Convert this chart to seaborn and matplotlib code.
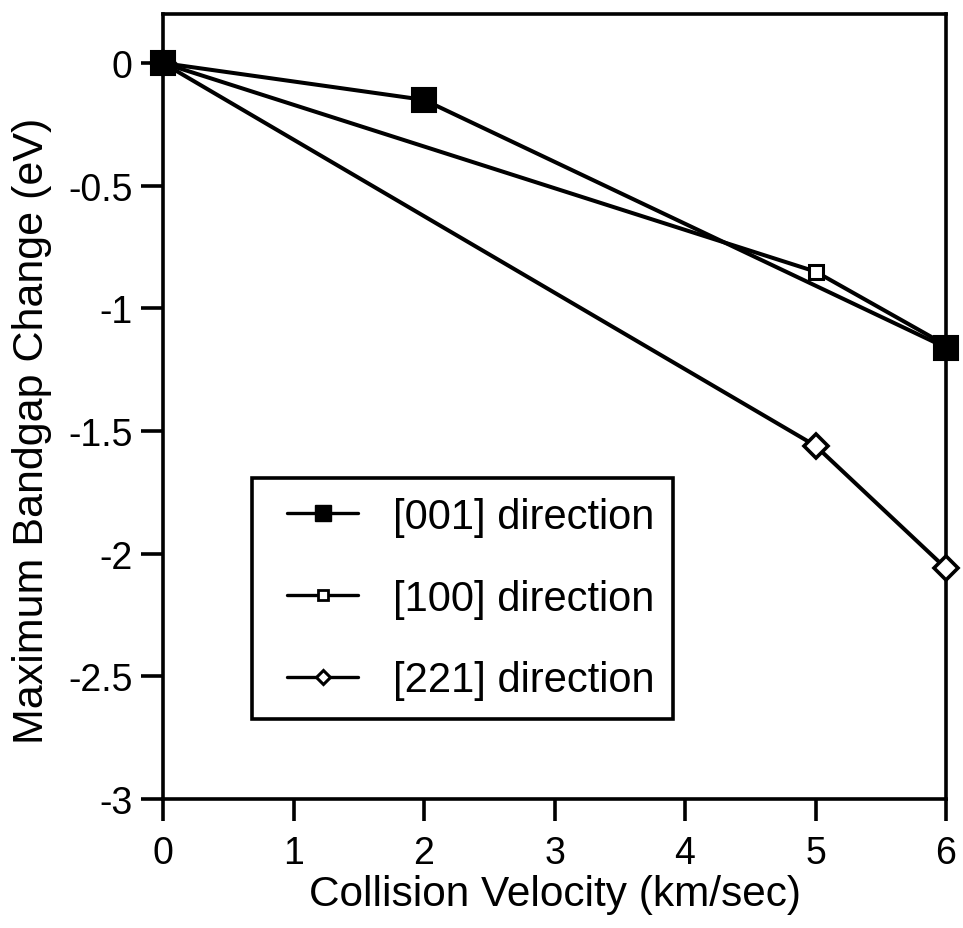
import matplotlib
matplotlib.use("Agg")
import matplotlib.pyplot as plt
from matplotlib.lines import Line2D
from matplotlib.legend_handler import HandlerLine2D
import seaborn as sns
import pandas as pd

# ---- data ----
velocity_001 = [0, 2, 6]
gap_001 = [0.0, -0.15, -1.16]
velocity_100 = [0, 5, 6]
gap_100 = [0.0, -0.85, -1.15]
velocity_221 = [0, 5, 6]
gap_221 = [0.0, -1.56, -2.06]
labels = ["[001] direction", "[100] direction", "[221] direction"]
x_ticks = [0, 1, 2, 3, 4, 5, 6]
y_ticks = [0, -0.5, -1, -1.5, -2, -2.5, -3]
y_tick_labels = ["0", "-0.5", "-1", "-1.5", "-2", "-2.5", "-3"]

sns.set_theme(style="ticks")
plt.rcParams["font.family"] = ["Liberation Sans", "DejaVu Sans"]

fig = plt.figure(figsize=(9.63, 9.29), dpi=100)
ax = fig.add_axes([163 / 963, 1 - 800 / 929, (946 - 163) / 963, (800 - 15) / 929])

lw = 2.9
styles = [
    dict(marker="s", markersize=17, markerfacecolor="black", markeredgecolor="black", markeredgewidth=1.5),
    dict(marker="s", markersize=10, markerfacecolor="white", markeredgecolor="black", markeredgewidth=2.2),
    dict(marker="D", markersize=12, markerfacecolor="white", markeredgecolor="black", markeredgewidth=2.6),
]
series = [(velocity_001, gap_001), (velocity_100, gap_100), (velocity_221, gap_221)]
order = [2, 1, 0]
for i in order:
    xs, ys = series[i]
    df = pd.DataFrame({"v": xs, "g": ys})
    sns.lineplot(data=df, x="v", y="g", ax=ax, color="black", linewidth=lw,
                 clip_on=False, zorder=3 + (2 - i), legend=False, **styles[i])

ax.set_xlim(0, 6)
ax.set_ylim(-3, 0.2)
ax.set_xticks(x_ticks)
ax.set_xticklabels([str(t) for t in x_ticks])
ax.set_yticks(y_ticks)
ax.set_yticklabels(y_tick_labels)
for s in ax.spines.values():
    s.set_linewidth(2.6)
    s.set_color("black")
ax.tick_params(axis="both", direction="out", length=16, width=2.6, color="black",
               labelsize=27, labelcolor="black")
ax.tick_params(axis="x", pad=10)
ax.tick_params(axis="y", pad=6)
ax.set_xlabel("Collision Velocity (km/sec)", fontsize=30.5, color="black", labelpad=2)
ax.set_ylabel("Maximum Bandgap Change (eV)", fontsize=31, color="black")
ax.yaxis.set_label_coords(-0.142, 0.47)

leg_styles = [
    dict(marker="s", markersize=12, markerfacecolor="black", markeredgecolor="black", markeredgewidth=1.0),
    dict(marker="s", markersize=7, markerfacecolor="white", markeredgecolor="black", markeredgewidth=2.0),
    dict(marker="D", markersize=7, markerfacecolor="white", markeredgecolor="black", markeredgewidth=2.2),
]
handles = [Line2D([], [], color="black", linewidth=2.4, **leg_styles[i]) for i in range(3)]
leg = ax.legend(handles, labels, loc="lower left", bbox_to_anchor=(0.1137, 0.102),
                frameon=True, fancybox=False, edgecolor="black", fontsize=30,
                handlelength=2.09, handletextpad=0.84, labelspacing=1.0,
                borderpad=0.45, borderaxespad=0,
                handler_map={Line2D: HandlerLine2D(xpad=0.4)})
leg.get_frame().set_linewidth(2.6)
leg.get_frame().set_alpha(1)
for t in leg.get_texts():
    t.set_color("black")

fig.savefig("out.png", dpi=100, facecolor="white")
